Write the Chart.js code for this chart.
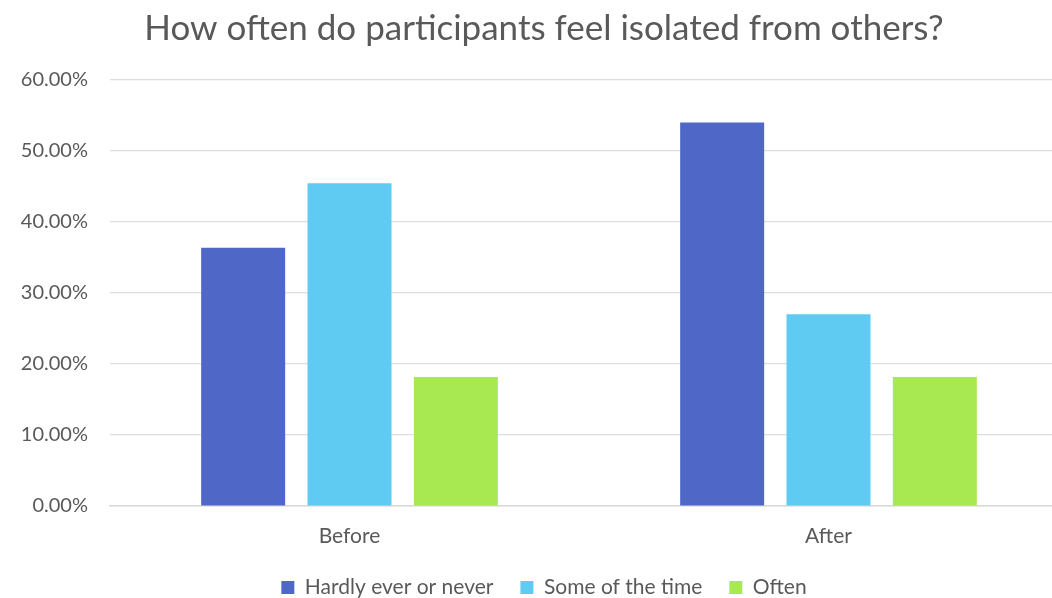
<!DOCTYPE html>
<html>
<head>
<meta charset="utf-8">
<title>How often do participants feel isolated from others?</title>
<script src="https://cdn.jsdelivr.net/npm/chart.js@4.4.1/dist/chart.umd.min.js"></script>
<style>
  html, body { margin: 0; padding: 0; background: #fff; overflow: hidden; }
  #wrap { width: 1052px; height: 598px; overflow: hidden; }
</style>
</head>
<body>
<div id="wrap">
  <canvas id="chart" width="1096" height="608"></canvas>
</div>
<script>
// survey answers, share of participants (%)
const periods = ['Before', 'After'];
const hardlyEver = [36.36, 54.0];
const someOfTheTime = [45.45, 27.0];
const often = [18.18, 18.18];

const seriesNames = ['Hardly ever or never', 'Some of the time', 'Often'];
const seriesColors = ['#4f68c8', '#5fcbf2', '#a8e951'];

const yTicksMax = 60;
const yTicksStep = 10;

const textColor = '#595959';
const fontFamily = 'Lato, "Open Sans", sans-serif';

const ctx = document.getElementById('chart').getContext('2d');

new Chart(ctx, {
    type: 'bar',
    data: {
        labels: periods,
        datasets: [hardlyEver, someOfTheTime, often].map((values, i) => ({
            label: seriesNames[i],
            data: values,
            backgroundColor: seriesColors[i],
            borderWidth: 0,
            categoryPercentage: 0.666,
            barPercentage: 0.79
        }))
    },
    options: {
        responsive: false,
        animation: false,
        layout: {
            padding: { left: 20, right: 28, top: 0, bottom: 0 }
        },
        plugins: {
            title: {
                display: true,
                text: 'How often do participants feel isolated from others?',
                color: textColor,
                font: { family: fontFamily, size: 35, weight: 'normal' },
                padding: { top: 8, bottom: 30 }
            },
            legend: {
                position: 'bottom',
                labels: {
                    color: textColor,
                    font: { family: fontFamily, size: 21 },
                    boxWidth: 13,
                    boxHeight: 13,
                    padding: 27
                }
            },
            tooltip: { enabled: false }
        },
        scales: {
            x: {
                grid: { display: false, drawTicks: false },
                border: { display: true, color: '#d9d9d9', width: 1.5 },
                ticks: {
                    color: textColor,
                    font: { family: fontFamily, size: 21 },
                    padding: 18
                },
                // keep the legend close under the category labels
                afterFit: scale => { scale.height = 44; }
            },
            y: {
                min: 0,
                max: yTicksMax,
                grid: { color: '#dedede', lineWidth: 1.2, drawTicks: false },
                border: { display: false },
                ticks: {
                    stepSize: yTicksStep,
                    color: textColor,
                    font: { family: fontFamily, size: 20 },
                    padding: 22,
                    callback: v => v.toFixed(2) + '%'
                },
                afterFit: scale => { scale.width = 90; }
            }
        }
    }
});
</script>
</body>
</html>
